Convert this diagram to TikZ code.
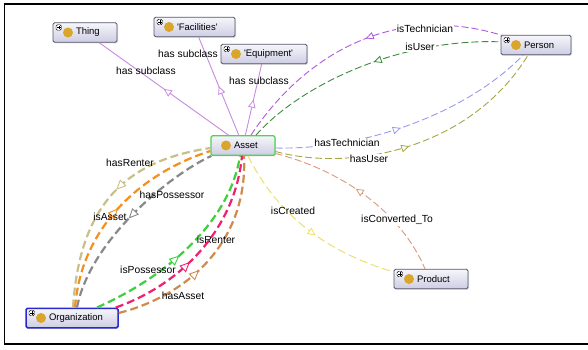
\documentclass[tikz,border=0pt]{standalone}
\usepackage{fontspec}
\setmainfont{Liberation Sans}
\usetikzlibrary{arrows.meta,decorations.markings,shadows}
\definecolor{nodetop}{HTML}{F6F6FB}
\definecolor{nodebot}{HTML}{CDCDE4}
\definecolor{nodeborder}{HTML}{55556A}
\definecolor{goldc}{HTML}{D9A52B}
\definecolor{assetborder}{HTML}{55D055}
\definecolor{orgborder}{HTML}{2828D0}
\definecolor{subcl}{HTML}{C68CE0}
\definecolor{techc}{HTML}{B158E0}
\definecolor{userc}{HTML}{3C8C3C}
\definecolor{htechc}{HTML}{9A9AF0}
\definecolor{huserc}{HTML}{A6A646}
\definecolor{convc}{HTML}{D99A7A}
\definecolor{creac}{HTML}{F0DE70}
\definecolor{hrentc}{HTML}{C8C088}
\definecolor{isastc}{HTML}{F5901E}
\definecolor{hpossc}{HTML}{888888}
\definecolor{isposc}{HTML}{3CD03C}
\definecolor{isrentc}{HTML}{F0206E}
\definecolor{hasastc}{HTML}{D08A4C}
\tikzset{
  clsbase/.style={rectangle, rounded corners=1.5pt, draw=nodeborder, line width=0.8pt,
    top color=nodetop, bottom color=nodebot, minimum height=19.5pt,
    inner xsep=4pt, inner ysep=0pt, align=left, font=\fontsize{9.5}{10}\selectfont,
    drop shadow={shadow xshift=1pt, shadow yshift=-1pt, opacity=0.25}},
  cls/.style={clsbase, path picture={
      \fill[goldc] ([xshift=15pt]path picture bounding box.west) circle (5pt);}},
  clsplus/.style={clsbase, path picture={
      \fill[goldc] ([xshift=15pt]path picture bounding box.west) circle (5pt);
      \draw[draw=black, fill=white, line width=0.4pt] ([shift={(3,2)}]path picture bounding box.north west) rectangle ++(5.5,5.5);
      \draw[line width=0.5pt, draw=black] ([shift={(4,4.75)}]path picture bounding box.north west) -- ++(3.5,0)
        ([shift={(5.75,3)}]path picture bounding box.north west) -- ++(0,3.5);}},
  lbl/.style={font=\fontsize{10.3}{12}\selectfont, inner sep=1pt},
  lblw/.style={lbl, fill=white},
  midarr/.style={postaction={decorate}, decoration={markings,
      mark=at position #1 with {\arrow{Triangle[open, fill=white, length=8pt, width=7.5pt, line width=0.8pt]}}}},
  midarrrev/.style={postaction={decorate}, decoration={markings,
      mark=at position #1 with {\arrowreversed{Triangle[open, fill=white, length=8pt, width=7.5pt, line width=0.8pt]}}}},
  bigarr/.style={postaction={decorate}, decoration={markings,
      mark=at position #1 with {\arrow{Triangle[open, fill=white, length=10pt, width=9pt, line width=0.9pt]}}}},
  bigarrrev/.style={postaction={decorate}, decoration={markings,
      mark=at position #1 with {\arrowreversed{Triangle[open, fill=white, length=10pt, width=9pt, line width=0.9pt]}}}},
  subline/.style={draw=subcl, line width=0.9pt},
  thinedge/.style={line width=0.9pt, dash pattern=on 7pt off 3pt},
  thickedge/.style={line width=2.2pt, dash pattern=on 8pt off 4pt},
}
\begin{document}
\begin{tikzpicture}[x=1pt, y=-1pt]
\useasboundingbox (0,0) rectangle (588,349);
\fill[white] (0,0) rectangle (588,349);
% frame
\draw[line width=1.5pt, black] (588,4) -- (4.5,4) -- (4.5,344) -- (588,344);

% nodes
\node[clsplus, text width=56pt] (thing) at (85,32.5) {\hspace*{19pt}Thing};
\node[clsplus, text width=73pt] (facil) at (194.5,27) {\hspace*{19pt}\textquotesingle Facilities\textquotesingle};
\node[clsplus, text width=78pt] (equip) at (264,54) {\hspace*{19pt}\textquotesingle Equipment\textquotesingle};
\node[cls, text width=56pt, draw=assetborder, line width=1.2pt] (asset) at (243,145.5) {\hspace*{19pt}Asset};
\node[clsplus, text width=62pt] (person) at (536,45) {\hspace*{19pt}Person};
\node[clsplus, text width=66pt] (product) at (431,279) {\hspace*{19pt}Product};
\node[clsplus, text width=84pt, draw=orgborder, line width=1.5pt] (org) at (72,318) {\hspace*{19pt}Organization};

% subclass edges
\draw[subline, midarr=0.5] (asset) -- (thing);
\draw[subline, midarr=0.5] (asset) -- (facil);
\draw[subline, midarr=0.5] (asset) -- (equip);

% Person edges
\draw[thinedge, draw=techc, midarrrev=0.52] ([shift={(8,0)}]asset.north) .. controls (300,60) and (390,0) .. ([shift={(3,1)}]person.north west);
\draw[thinedge, draw=userc, midarrrev=0.52] ([shift={(13,0)}]asset.north) .. controls (300,85) and (400,38) .. ([shift={(0,7)}]person.north west);
\draw[thinedge, draw=htechc, midarr=0.47] ([shift={(0,2.5)}]asset.east) .. controls (370,150) and (470,110) .. ([shift={(-13,0)}]person.south);
\draw[thinedge, draw=huserc, midarr=0.47] ([shift={(0,6)}]asset.east) .. controls (350,172) and (470,150) .. ([shift={(-8,0)}]person.south);

% Product edges
\draw[thinedge, draw=convc, midarrrev=0.45] ([shift={(0,8)}]asset.east) .. controls (340,170) and (400,210) .. ([shift={(-6,0)}]product.north);
\draw[line width=1pt, dash pattern=on 8pt off 4pt, draw=creac, midarr=0.55] ([shift={(5,0)}]asset.south) .. controls (275,210) and (320,250) .. ([shift={(0,-7)}]product.west);

% Organization edges (left group)
\draw[thickedge, draw=hrentc, bigarrrev=0.55] ([shift={(1,0)}]org.north) .. controls (80,200) and (130,160) .. ([shift={(0,2.5)}]asset.west);
\draw[thickedge, draw=isastc, bigarr=0.5] ([shift={(3,0)}]org.north) .. controls (82,220) and (150,170) .. ([shift={(0,5.5)}]asset.west);
\draw[thickedge, draw=hpossc, bigarrrev=0.5] ([shift={(5,0)}]org.north) .. controls (90,240) and (170,175) .. ([shift={(1,0)}]asset.south west);
% Organization edges (right group)
\draw[thickedge, draw=isposc, bigarr=0.45] ([shift={(25,0)}]org.north) .. controls (170,275) and (230,220) .. ([shift={(-3,0)}]asset.south);
\draw[thickedge, draw=isrentc, bigarr=0.42] ([shift={(-3,0)}]org.north east) .. controls (180,285) and (235,230) .. ([shift={(-1,0)}]asset.south);
\draw[thickedge, draw=hasastc, bigarr=0.42] ([shift={(0,-5)}]org.east) .. controls (190,295) and (248,240) .. ([shift={(1,0)}]asset.south);

% labels
\node[lbl] (l1) at (146,71) {has subclass};
\node[lbl] (l2) at (188,54) {has subclass};
\node[lbl] (l3) at (259,81) {has subclass};
\node[lblw] (l4) at (425,28.5) {isTechnician};
\node[lblw] (l5) at (420,47) {isUser};
\node[lblw] (l6) at (347,143) {hasTechnician};
\node[lblw] (l7) at (369,159) {hasUser};
\node[lblw] (l8) at (397,220) {isConverted\_To};
\node[lbl] (l9) at (293,211) {isCreated};
\node[lbl] (l10) at (130,163) {hasRenter};
\node[lbl] (l11) at (172,195) {hasPossessor};
\node[lbl] (l12) at (110,216.5) {isAsset};
\node[lbl] (l13) at (216,239.5) {isRenter};
\node[lbl] (l14) at (148,270) {isPossessor};
\node[lbl] (l15) at (183,295.5) {hasAsset};
\end{tikzpicture}
\end{document}
